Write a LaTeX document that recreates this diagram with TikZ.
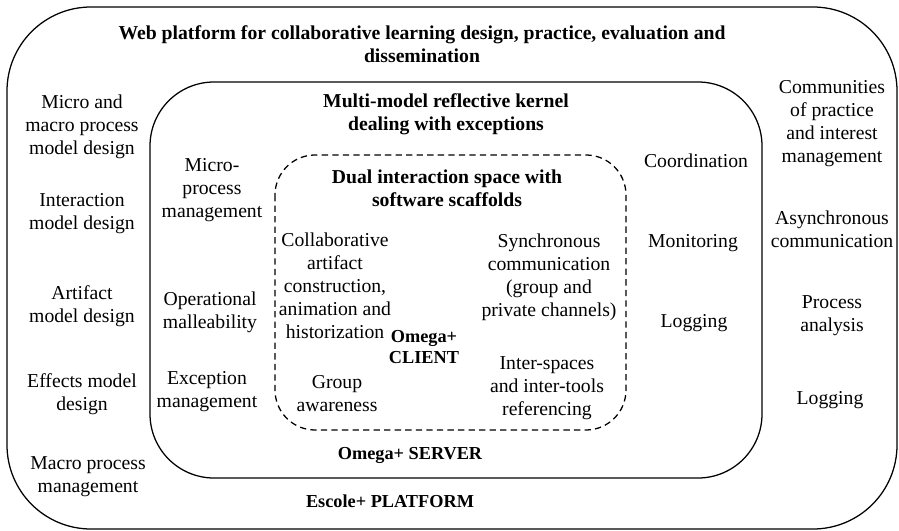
\documentclass[tikz,border=0pt]{standalone}
\usepackage{fontspec}
\setmainfont{Liberation Serif}
\usetikzlibrary{positioning}

\begin{document}
\begin{tikzpicture}[
    x=0.025cm, y=-0.025cm,
    frame/.style={draw, line width=0.9pt},
    item/.style={align=center, inner sep=0pt, font=\fontsize{14}{16.4}\selectfont},
    heading/.style={item, font=\fontsize{14}{16.4}\selectfont\bfseries},
    tag/.style={item, font=\fontsize{13}{15.4}\selectfont\bfseries}
]
\useasboundingbox (0,0) rectangle (899,531);

% the three nested layers
\draw[frame, rounded corners=2.1cm] (7,7) rectangle (897,529);
\draw[frame, rounded corners=1.6cm] (150,82) rectangle (762,478);
\draw[frame, dashed, dash pattern=on 4.5pt off 3pt, rounded corners=1cm] (275,155) rectangle (626,430);

% platform level
\node[heading] (web) at (422,44) {Web platform for collaborative learning design, practice, evaluation and\\dissemination};
\node[item] (micromacro) at (82,127) {Micro and\\macro process\\model design};
\node[item] (interaction) at (82,214) {Interaction\\model design};
\node[item] (artifact) at (82,306) {Artifact\\model design};
\node[item] (effects) at (82,394) {Effects model\\design};
\node[item] (macro) at (88,477) {Macro process\\management};
\node[item] (communities) at (832,124) {Communities\\of practice\\and interest\\management};
\node[item] (async) at (832,229) {Asynchronous\\communication};
\node[item] (analysis) at (832,316) {Process\\analysis};
\node[item] (logplat) at (830,400) {Logging};
\node[tag] (platform) at (390,501) {Escole+ PLATFORM};

% server level
\node[heading] (kernel) at (446,114) {Multi-model reflective kernel\\dealing with exceptions};
\node[item] (microproc) at (212,190) {Micro-\\process\\management};
\node[item] (malleab) at (210,312) {Operational\\malleability};
\node[item] (exception) at (207,392) {Exception\\management};
\node[item] (coord) at (696,161) {Coordination};
\node[item] (monitor) at (693,243) {Monitoring};
\node[item] (logserv) at (694,323) {Logging};
\node[tag] (server) at (410,455) {Omega+ SERVER};

% client level
\node[heading] (dual) at (447,188) {Dual interaction space with\\software scaffolds};
\node[item] (collab) at (335,286) {Collaborative\\artifact\\construction,\\animation and\\historization};
\node[item] (awareness) at (337,394) {Group\\awareness};
\node[tag] (client) at (424,347) {Omega+\\CLIENT};
\node[item] (sync) at (549,277) {Synchronous\\communication\\(group and\\private channels)};
\node[item] (referencing) at (547,388) {Inter-spaces\\and inter-tools\\referencing};
\end{tikzpicture}
\end{document}
